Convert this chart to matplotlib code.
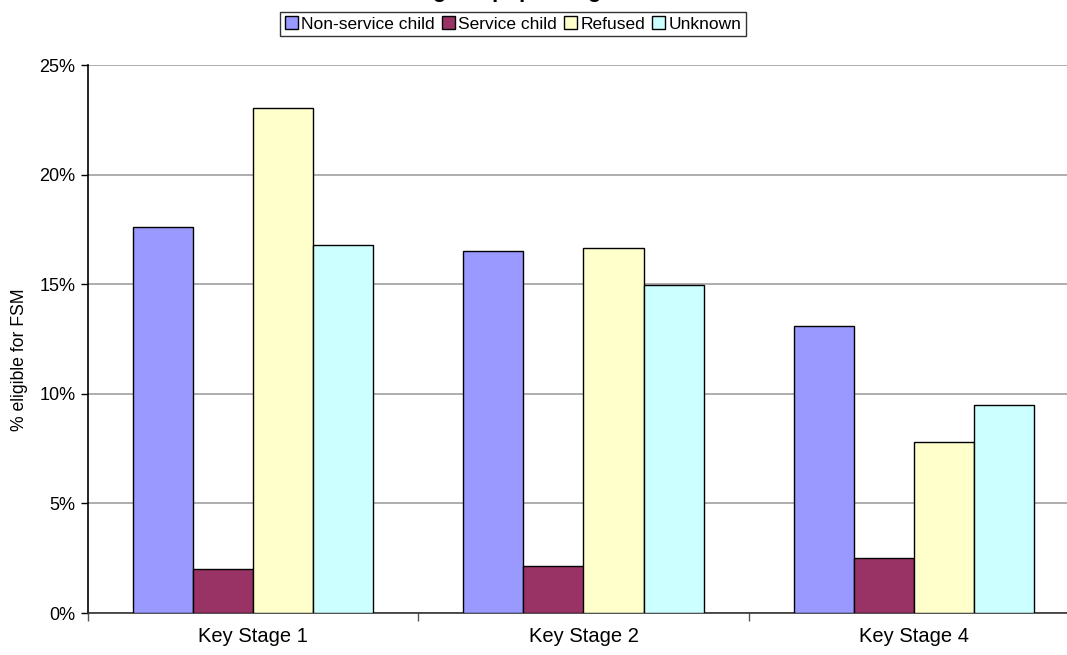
import numpy as np
import matplotlib
matplotlib.use('Agg')
from matplotlib import pyplot as plt
from matplotlib.patches import Patch
from matplotlib.ticker import FuncFormatter, FixedLocator

plt.rcParams['font.family'] = ['Liberation Sans', 'DejaVu Sans']

stages = ['Key Stage 1', 'Key Stage 2', 'Key Stage 4']
series = ['Non-service child', 'Service child', 'Refused', 'Unknown']
non_service = [17.6, 16.5, 13.1]
service = [2.0, 2.15, 2.5]
refused = [23.05, 16.65, 7.8]
unknown = [16.8, 14.95, 9.5]
colors = ['#9999FF', '#993366', '#FFFFCC', '#CCFFFF']

W, H = 1067, 655
fig = plt.figure(figsize=(W / 100, H / 100), dpi=100)
# plot area runs past the right edge, as in the original crop
ax = fig.add_axes([88 / W, 42 / H, (1079 - 88) / W, (613 - 65) / H])

x = np.arange(len(stages))
w = 1 / 5.5
for i, vals in enumerate([non_service, service, refused, unknown]):
    ax.bar(x + (i - 1.5) * w, vals, w, color=colors[i], edgecolor='black',
           linewidth=1.0, zorder=3)

ax.set_xlim(-0.5, 2.5)
ax.set_ylim(0, 25)
ax.set_yticks(np.arange(0, 26, 5))
ax.yaxis.set_major_formatter(FuncFormatter(lambda v, p: '%d%%' % v))
ax.yaxis.grid(True, color='#a0a0a0', linewidth=1.2, zorder=0)
ax.tick_params(axis='y', labelsize=13, length=5, width=1, direction='out', pad=4)

ax.set_xticks(x)
ax.set_xticklabels(stages, fontsize=14.5)
ax.tick_params(axis='x', which='major', length=0, pad=10)
ax.xaxis.set_minor_locator(FixedLocator([-0.5, 0.5, 1.5, 2.5]))
ax.tick_params(axis='x', which='minor', length=6, width=1, color='#555555')

for s in ['top', 'right']:
    ax.spines[s].set_visible(False)
ax.spines['left'].set_linewidth(1.2)
ax.spines['bottom'].set_linewidth(1.2)
ax.spines['bottom'].set_color('#333333')

ax.set_ylabel('% eligible for FSM', fontsize=12.7)
ax.yaxis.set_label_coords(-60 / 991, (613 - 360) / 548)

handles = [Patch(facecolor=c, edgecolor='black', linewidth=1) for c in colors]
leg = fig.legend(handles, series, loc='center', bbox_to_anchor=(513 / W, 1 - 24 / H),
                 ncol=4, fontsize=12.5, frameon=True, fancybox=False,
                 handlelength=0.75, handleheight=0.75, handletextpad=0.2,
                 columnspacing=0.4, borderpad=0.25, borderaxespad=0)
leg.get_frame().set_edgecolor('black')
leg.get_frame().set_linewidth(1.0)

# title sits mostly above the canvas; only its descenders show
fig.text(0.5, 1 + 3.5 / H, 'Percentage of pupils eligible for FSM',
         ha='center', va='baseline', fontsize=16, fontweight='bold')

fig.savefig('out.png', dpi=100)
